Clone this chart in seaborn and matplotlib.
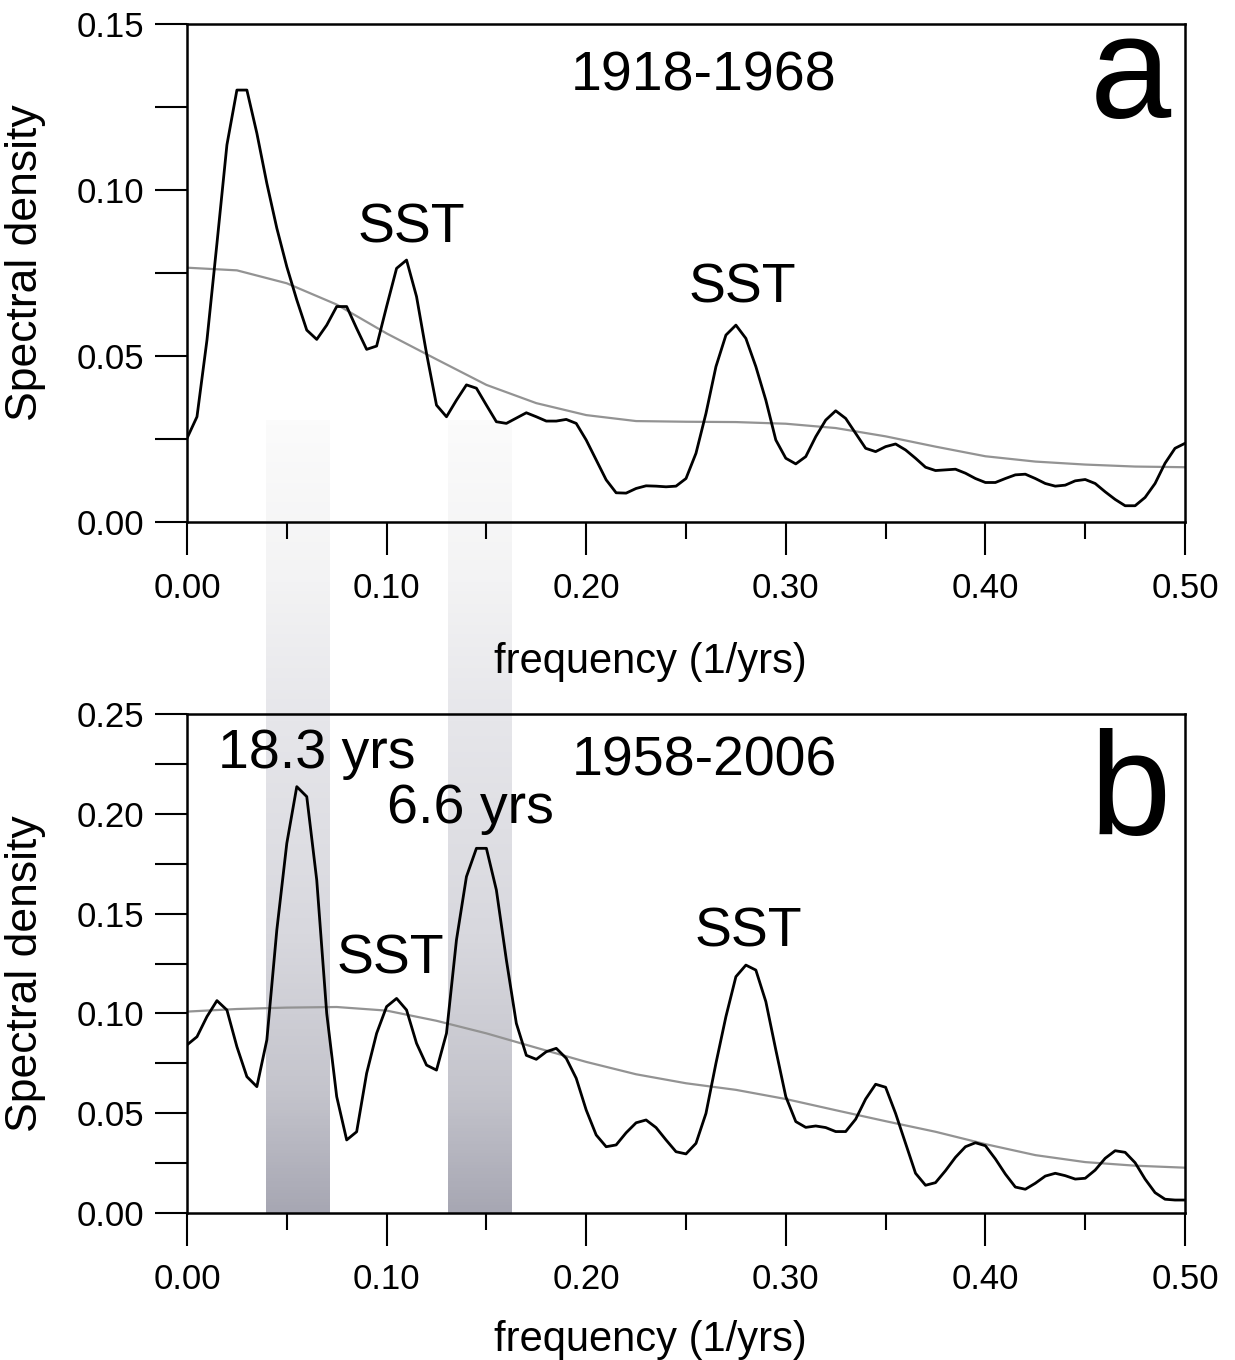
import numpy as np
import pandas as pd
import matplotlib
matplotlib.use("Agg")
import matplotlib.pyplot as plt
from matplotlib.colors import LinearSegmentedColormap
from matplotlib.ticker import MultipleLocator, FormatStrFormatter
import seaborn as sns

# =========================
# Data
# =========================
# spectra sampled every 0.005 1/yrs from 0 to 0.5
freq = np.round(np.arange(0, 0.5001, 0.005), 3)

spec_a = [
    0.0252, 0.0317, 0.0548, 0.0839, 0.1136, 0.1301, 0.1301, 0.1171, 0.1020, 0.0885,
    0.0769, 0.0669, 0.0578, 0.0550, 0.0593, 0.0649, 0.0649, 0.0583, 0.0520, 0.0530,
    0.0649, 0.0764, 0.0789, 0.0679, 0.0508, 0.0352, 0.0317, 0.0367, 0.0413, 0.0403,
    0.0352, 0.0302, 0.0297, 0.0313, 0.0329, 0.0317, 0.0304, 0.0304, 0.0309, 0.0297,
    0.0247, 0.0187, 0.0127, 0.0088, 0.0087, 0.0101, 0.0109, 0.0108, 0.0106, 0.0108,
    0.0131, 0.0207, 0.0327, 0.0468, 0.0563, 0.0593, 0.0553, 0.0468, 0.0367, 0.0247,
    0.0192, 0.0175, 0.0197, 0.0257, 0.0307, 0.0335, 0.0312, 0.0267, 0.0222, 0.0212,
    0.0227, 0.0235, 0.0217, 0.0192, 0.0165, 0.0155, 0.0157, 0.0159, 0.0147, 0.0131,
    0.0119, 0.0119, 0.0131, 0.0142, 0.0144, 0.0131, 0.0116, 0.0108, 0.0111, 0.0124,
    0.0128, 0.0116, 0.0091, 0.0068, 0.0049, 0.0049, 0.0074, 0.0116, 0.0177, 0.0222,
    0.0237,
]

spec_b = [
    0.0842, 0.0883, 0.0984, 0.1064, 0.1017, 0.0833, 0.0683, 0.0633, 0.0867, 0.1418,
    0.1852, 0.2136, 0.2086, 0.1668, 0.1000, 0.0583, 0.0366, 0.0407, 0.0700, 0.0900,
    0.1034, 0.1075, 0.1017, 0.0850, 0.0741, 0.0716, 0.0900, 0.1368, 0.1685, 0.1827,
    0.1827, 0.1618, 0.1268, 0.0950, 0.0790, 0.0770, 0.0808, 0.0825, 0.0775, 0.0675,
    0.0516, 0.0391, 0.0332, 0.0341, 0.0402, 0.0452, 0.0466, 0.0428, 0.0366, 0.0307,
    0.0296, 0.0349, 0.0499, 0.0750, 0.0984, 0.1184, 0.1242, 0.1217, 0.1059, 0.0817,
    0.0583, 0.0458, 0.0429, 0.0436, 0.0428, 0.0408, 0.0408, 0.0470, 0.0571, 0.0645,
    0.0630, 0.0499, 0.0349, 0.0199, 0.0139, 0.0152, 0.0212, 0.0279, 0.0332, 0.0352,
    0.0337, 0.0271, 0.0195, 0.0130, 0.0119, 0.0149, 0.0185, 0.0199, 0.0187, 0.0170,
    0.0174, 0.0215, 0.0274, 0.0312, 0.0304, 0.0252, 0.0170, 0.0102, 0.0069, 0.0065,
    0.0065,
]

# smooth background (grey) curves, every 0.025 1/yrs
bg_freq = np.round(np.arange(0, 0.5001, 0.025), 3)
bg_a = [0.0766, 0.0758, 0.0719, 0.0655, 0.0568, 0.0490, 0.0413, 0.0358, 0.0322, 0.0304,
        0.0302, 0.0301, 0.0296, 0.0283, 0.0258, 0.0227, 0.0198, 0.0182, 0.0173, 0.0167,
        0.0165]
bg_b = [0.1009, 0.1022, 0.1029, 0.1032, 0.1014, 0.0963, 0.0900, 0.0828, 0.0757, 0.0695,
        0.0650, 0.0617, 0.0571, 0.0515, 0.0460, 0.0407, 0.0345, 0.0290, 0.0255, 0.0237,
        0.0227]

# shaded frequency bands (18.3 yrs and 6.6 yrs)
band_lo = [0.0396, 0.131]
band_hi = [0.0716, 0.163]

periods_a = "1918-1968"
periods_b = "1958-2006"

# =========================
# Style
# =========================
sns.set_style("ticks")
plt.rcParams['font.family'] = ['Liberation Sans', 'DejaVu Sans']
plt.rcParams['axes.linewidth'] = 1.8
plt.rcParams['text.color'] = 'black'
plt.rcParams['axes.labelcolor'] = 'black'
plt.rcParams['xtick.color'] = 'black'
plt.rcParams['ytick.color'] = 'black'
plt.rcParams['axes.edgecolor'] = 'black'

fig = plt.figure(figsize=(12.35, 13.6), dpi=100)

W, H = 1235.0, 1360.0
L, R = 187, 1185
ax_a = fig.add_axes([L / W, 1 - 522 / H, (R - L) / W, 498 / H], zorder=2)
ax_b = fig.add_axes([L / W, 1 - 1213 / H, (R - L) / W, 499 / H], zorder=2)

# background axes for the gradient bands that run through both panels
band_top, band_bot = 420, 1213
bg_ax = fig.add_axes([L / W, 1 - band_bot / H, (R - L) / W, (band_bot - band_top) / H], zorder=0)
bg_ax.axis("off")

cmap = LinearSegmentedColormap.from_list(
    "band", [(0.0, "#a7a7b3"), (0.15, "#c4c4cc"), (0.35, "#d8d8de"),
             (0.62, "#e6e6ea"), (0.80, "#f3f3f4"), (1.0, "#fbfbfb")])
grad = np.linspace(0, 1, 256).reshape(-1, 1)
for lo, hi in zip(band_lo, band_hi):
    bg_ax.imshow(grad, extent=[lo, hi, 0, 1], origin="lower", cmap=cmap,
                 aspect="auto", vmin=0, vmax=1, interpolation="bilinear")
bg_ax.set_xlim(0, 0.5)
bg_ax.set_ylim(0, 1)

panels = [
    (ax_a, spec_a, bg_a, 0.15),
    (ax_b, spec_b, bg_b, 0.25),
]

for ax, spec, bg, ymax in panels:
    ax.set_facecolor("none")
    sns.lineplot(x=bg_freq, y=bg, ax=ax, color="#939393", linewidth=1.6)
    sns.lineplot(x=freq, y=spec, ax=ax, color="black", linewidth=2.0)
    ax.set_xlim(0, 0.5)
    ax.set_ylim(0, ymax)
    for s in ax.spines.values():
        s.set_visible(True)
        s.set_linewidth(1.8)
        s.set_color("black")
    ax.xaxis.set_major_locator(MultipleLocator(0.1))
    ax.xaxis.set_minor_locator(MultipleLocator(0.05))
    ax.yaxis.set_major_locator(MultipleLocator(0.05))
    ax.yaxis.set_minor_locator(MultipleLocator(0.025))
    ax.xaxis.set_major_formatter(FormatStrFormatter("%.2f"))
    ax.yaxis.set_major_formatter(FormatStrFormatter("%.2f"))
    ax.tick_params(axis="x", which="major", direction="out", length=24, width=1.5,
                   labelsize=25, pad=12, colors="black")
    ax.tick_params(axis="x", which="minor", direction="out", length=12, width=1.5,
                   colors="black")
    ax.tick_params(axis="y", which="both", direction="out", length=23, width=1.5,
                   labelsize=25, pad=8, colors="black")
    ax.set_xlabel("frequency (1/yrs)", fontsize=30, color="black")
    ax.set_ylabel("Spectral density", fontsize=32, color="black")

ax_a.yaxis.set_label_coords(-0.141, 0.52)
ax_b.yaxis.set_label_coords(-0.141, 0.48)
ax_a.xaxis.set_label_coords(0.464, -0.24)
ax_b.xaxis.set_label_coords(0.464, -0.215)
ax_a.xaxis.label.set_va("top")
ax_b.xaxis.label.set_va("top")

# =========================
# Annotations
# =========================
txt = dict(fontsize=40, ha="center", va="baseline", color="black")
ax_a.text(0.259, 0.1301, periods_a, **txt)
ax_a.text(0.1122, 0.0843, "SST", **txt)
ax_a.text(0.278, 0.066, "SST", **txt)
ax_a.text(0.4725, 0.1217, "a", fontsize=105, ha="center", va="baseline", color="black")

ax_b.text(0.259, 0.219, periods_b, **txt)
ax_b.text(0.065, 0.223, "18.3 yrs", **txt)
ax_b.text(0.1418, 0.1954, "6.6 yrs", **txt)
ax_b.text(0.1017, 0.1202, "SST", **txt)
ax_b.text(0.281, 0.1333, "SST", **txt)
ax_b.text(0.4725, 0.190, "b", fontsize=105, ha="center", va="baseline", color="black")

plt.savefig("out.png", dpi=100)
